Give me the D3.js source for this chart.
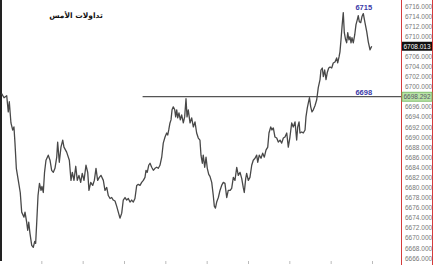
<!DOCTYPE html>
<html>
<head>
<meta charset="utf-8">
<script src="https://cdn.jsdelivr.net/npm/d3@7"></script>
<style>
  body { margin: 0; background: #fff; }
  svg { display: block; }
</style>
</head>
<body>
<script>
// intraday price trace (t = time units, 40 per grid step)
const t = [
  1.6, 3.9, 6.5, 8.0, 9.0, 10.6, 12.3, 13.5, 14.5, 15.8,
  17.7, 19.6, 21.0, 23.2, 24.2, 25.8, 26.8, 27.8, 29.0, 30.7,
  32.2, 33.6, 34.5, 35.5, 36.8, 38.2, 39.7, 40.6, 41.9, 43.1,
  44.5, 46.7, 48.4, 50.0, 51.6, 53.2, 54.9, 55.8, 57.4, 59.0,
  60.7, 61.9, 64.5, 67.1, 68.7, 70.0, 71.6, 73.3, 74.8, 76.4,
  78.1, 79.6, 81.3, 83.2, 84.9, 86.1, 87.8, 89.7, 91.3, 92.9,
  94.5, 96.1, 97.7, 100.0, 101.6, 103.3, 104.8, 106.5, 108.1, 109.6,
  111.3, 112.9, 114.5, 116.1, 117.8, 119.3, 121.0, 122.6, 124.2, 125.8,
  127.4, 129.0, 130.6, 132.3, 133.8, 135.5, 137.1, 138.7, 140.3, 141.3,
  142.5, 143.9, 145.2, 146.8, 148.4, 150.0, 151.6, 153.2, 154.8, 156.5,
  158.0, 159.7, 161.3, 162.3, 163.3, 164.5, 165.5, 166.5, 167.7, 169.1,
  170.0, 171.0, 172.0, 173.2, 174.5, 175.8, 177.4, 178.7, 180.0, 181.0,
  182.2, 183.9, 185.5, 187.1, 188.7, 190.3, 191.9, 193.5, 194.5, 195.8,
  196.7, 198.1, 199.4, 200.6, 202.0, 203.2, 204.9, 206.4, 207.4, 208.5,
  209.7, 211.3, 212.9, 214.5, 216.1, 217.7, 219.4, 220.9, 222.6, 224.2,
  225.8, 227.4, 229.1, 230.6, 232.3, 233.9, 235.4, 236.4, 237.8, 238.7,
  240.3, 241.9, 243.6, 245.1, 246.8, 248.4, 249.4, 250.9, 252.6, 254.2,
  255.8, 257.4, 259.1, 260.3, 262.0, 263.2, 264.5, 266.1, 267.8, 269.3,
  271.0, 272.6, 274.2, 275.8, 277.5, 279.0, 280.6, 282.3, 283.8, 285.5,
  287.1, 288.1, 289.4, 290.3, 292.0, 293.5, 295.2, 296.1, 297.4, 298.4,
  299.5, 300.7, 301.9, 303.2, 304.8, 306.5, 308.0, 309.7, 310.6, 311.9,
  312.9, 314.2, 315.5, 316.7, 318.1, 319.4, 321.0, 322.5, 324.2, 325.8,
  326.8, 328.1, 329.0, 330.0, 331.0, 332.2, 333.2, 334.5, 335.5, 336.5,
  337.7, 338.7, 339.7, 340.6, 341.9, 343.3, 344.5, 345.8, 346.7, 347.7,
  349.1, 350.3, 351.6, 353.2, 354.9, 356.4, 358.1, 359.7
];
const price = [
  6698.6, 6697.8, 6698.2, 6695.0, 6697.0, 6692.8, 6691.4, 6692.0, 6688.8, 6683.8,
  6681.4, 6679.0, 6675.1, 6674.1, 6675.1, 6673.1, 6671.5, 6673.1, 6670.9, 6668.5,
  6668.1, 6669.3, 6668.9, 6672.9, 6678.4, 6680.8, 6679.4, 6680.2, 6679.0, 6683.0,
  6685.4, 6686.4, 6685.4, 6683.4, 6683.0, 6683.8, 6686.0, 6689.0, 6685.0, 6688.0,
  6689.4, 6688.0, 6687.0, 6685.4, 6681.4, 6683.0, 6681.4, 6684.2, 6681.4, 6682.4,
  6681.0, 6682.8, 6681.4, 6684.4, 6683.0, 6679.4, 6681.0, 6680.4, 6681.4, 6683.8,
  6681.4, 6682.0, 6682.4, 6681.4, 6679.4, 6680.0, 6678.4, 6677.8, 6678.0, 6677.5,
  6677.3, 6676.3, 6675.1, 6673.9, 6674.9, 6677.5, 6678.0, 6677.5, 6677.8, 6677.1,
  6677.5, 6677.1, 6677.8, 6680.4, 6680.6, 6680.4, 6681.0, 6681.4, 6682.0, 6683.4,
  6683.0, 6684.4, 6684.8, 6684.0, 6683.4, 6683.8, 6684.0, 6683.8, 6684.4, 6686.0,
  6688.8, 6690.0, 6690.8, 6690.4, 6691.4, 6692.8, 6693.4, 6695.4, 6696.0, 6695.4,
  6694.0, 6695.4, 6693.8, 6694.8, 6693.4, 6694.4, 6692.8, 6694.0, 6697.6, 6694.0,
  6695.4, 6692.8, 6693.8, 6692.0, 6693.0, 6690.8, 6689.8, 6689.4, 6686.4, 6684.8,
  6686.4, 6684.0, 6686.0, 6683.8, 6682.6, 6682.2, 6681.0, 6678.4, 6676.3, 6675.9,
  6677.1, 6678.0, 6679.4, 6680.4, 6681.0, 6680.8, 6678.0, 6679.4, 6679.4, 6679.8,
  6682.0, 6681.4, 6684.0, 6682.4, 6683.0, 6681.8, 6680.0, 6679.0, 6681.8, 6682.8,
  6681.4, 6682.0, 6684.4, 6685.4, 6685.8, 6686.4, 6685.0, 6686.4, 6685.8, 6686.8,
  6686.0, 6687.4, 6688.0, 6690.8, 6692.0, 6691.4, 6691.8, 6690.0, 6689.8, 6689.0,
  6689.4, 6688.8, 6689.8, 6690.0, 6690.8, 6688.0, 6690.0, 6692.8, 6692.0, 6693.0,
  6689.4, 6692.0, 6693.0, 6690.8, 6691.0, 6690.8, 6691.4, 6694.0, 6695.8, 6696.8,
  6697.8, 6696.0, 6695.0, 6695.4, 6696.2, 6697.4, 6699.8, 6701.4, 6703.3, 6703.7,
  6702.0, 6703.3, 6701.4, 6702.8, 6703.7, 6703.9, 6703.7, 6704.7, 6704.9, 6705.7,
  6704.7, 6705.9, 6706.9, 6709.3, 6711.9, 6714.7, 6710.7, 6709.3, 6708.7, 6710.7,
  6709.3, 6709.9, 6708.7, 6709.7, 6708.7, 6710.3, 6712.3, 6713.3, 6714.1, 6712.9,
  6712.7, 6713.9, 6714.5, 6712.7, 6710.9, 6708.9, 6707.3, 6708.0
];

const yTicks = [6666, 6668, 6670, 6672, 6674, 6676, 6678, 6680, 6682, 6684, 6686,
  6688, 6690, 6692, 6694, 6696, 6698, 6700, 6702, 6704, 6706, 6708, 6710,
  6712, 6714, 6716];
const xTicks = [40, 80, 120, 160, 200, 240, 280, 320, 360];

const lastPrice = 6708.013;
const supportLevel = 6698;
const supportPrice = 6698.292;
const highLabel = "6715";
const highLevel = 6715;
const supportLabel = "6698";
const title = "تداولات الأمس";

const W = 435, H = 265;
const axisX = 401;

const x = d3.scaleLinear().domain([0, 360]).range([0, 372]);
const y = d3.scaleLinear().domain([6666, 6716]).range([258, 6]);

const svg = d3.select("body").append("svg")
  .attr("width", W)
  .attr("height", H);

svg.append("rect").attr("width", W).attr("height", H).attr("fill", "#fff");

// left frame edge
svg.append("rect")
  .attr("x", 0).attr("y", 0)
  .attr("width", 2).attr("height", 261)
  .attr("fill", "#222");

// bottom ticks
const xAxis = svg.append("g")
  .attr("transform", "translate(0,261)")
  .call(d3.axisBottom(x).tickValues(xTicks).tickSize(3).tickFormat(""));
xAxis.select(".domain").remove();
xAxis.selectAll(".tick line").attr("stroke", "#bbb");

// support line
svg.append("line")
  .attr("x1", x(138)).attr("x2", axisX)
  .attr("y1", y(supportLevel)).attr("y2", y(supportLevel))
  .attr("stroke", "#555")
  .attr("stroke-width", 1.3);

// price line
const pts = t.map((d, i) => [d, price[i]]);
svg.append("path")
  .datum(pts)
  .attr("fill", "none")
  .attr("stroke", "#484848")
  .attr("stroke-width", 1.3)
  .attr("stroke-linejoin", "round")
  .attr("d", d3.line().x(d => x(d[0])).y(d => y(d[1])));

// annotations
svg.append("text")
  .attr("x", x(352)).attr("y", y(highLevel) - 1.5)
  .attr("text-anchor", "middle")
  .style("font-family", "Liberation Sans, Arial, sans-serif")
  .style("font-size", "7.5px")
  .style("font-weight", "bold")
  .attr("fill", "#3a3aa8")
  .text(highLabel);

svg.append("text")
  .attr("x", x(352)).attr("y", y(supportLevel) - 2)
  .attr("text-anchor", "middle")
  .style("font-family", "Liberation Sans, Arial, sans-serif")
  .style("font-size", "7.5px")
  .style("font-weight", "bold")
  .attr("fill", "#3a3aa8")
  .text(supportLabel);

svg.append("text")
  .attr("x", 76).attr("y", 17.5)
  .attr("text-anchor", "middle")
  .style("font-family", "DejaVu Sans, sans-serif")
  .style("font-size", "7.5px")
  .style("font-weight", "bold")
  .attr("fill", "#111")
  .text(title);

// right price scale; labels hidden behind the price tags are left out
const shown = yTicks.filter(v => Math.abs(y(v) - y(lastPrice)) > 6 &&
  Math.abs(y(v) - y(supportLevel)) > 6);
const yAxis = svg.append("g")
  .attr("transform", `translate(${axisX},0)`)
  .call(d3.axisRight(y).tickValues(shown).tickSize(0).tickPadding(4)
    .tickFormat(d3.format(".3f")));
yAxis.select(".domain").remove();
yAxis.selectAll("text")
  .style("font-family", "Liberation Sans, Arial, sans-serif")
  .style("font-size", "6.5px")
  .attr("fill", "#777");

svg.append("line")
  .attr("x1", axisX + 0.5).attr("x2", axisX + 0.5)
  .attr("y1", 0).attr("y2", H)
  .attr("stroke", "#d43c3c").attr("stroke-width", 1);
svg.append("line")
  .attr("x1", 432.5).attr("x2", 432.5)
  .attr("y1", 0).attr("y2", H)
  .attr("stroke", "#d43c3c").attr("stroke-width", 1);

// price tags
function tag(val, yVal, bg, stroke, fg) {
  const g = svg.append("g").attr("transform", `translate(${axisX + 1},${y(yVal)})`);
  g.append("rect")
    .attr("x", 0).attr("y", -4.5)
    .attr("width", 30).attr("height", 9)
    .attr("fill", bg)
    .attr("stroke", stroke)
    .attr("stroke-width", stroke === "none" ? 0 : 0.8);
  g.append("text")
    .attr("x", 15).attr("y", 2.3)
    .attr("text-anchor", "middle")
    .style("font-family", "Liberation Sans, Arial, sans-serif")
    .style("font-size", "6.5px")
    .attr("fill", fg)
    .text(d3.format(".3f")(val));
}
tag(lastPrice, lastPrice, "#111", "none", "#fff");
tag(supportPrice, supportLevel, "#b9e3a6", "#6fb35a", "#556");
</script>
</body>
</html>
